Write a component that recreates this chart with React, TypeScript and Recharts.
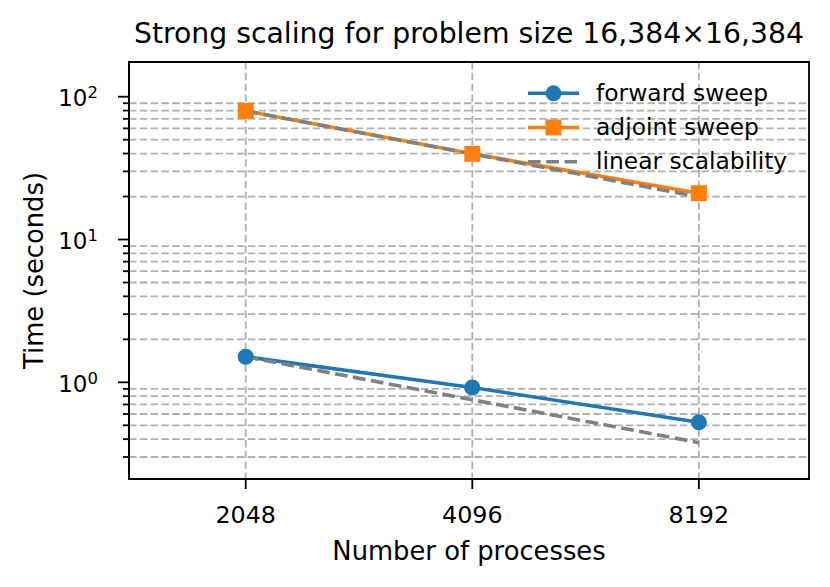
import React from 'react';
import { LineChart, Line, XAxis, YAxis, CartesianGrid, Legend, ReferenceArea } from 'recharts';

const processes = [2048, 4096, 8192];
const forwardSweep = [1.51, 0.92, 0.525];
const adjointSweep = [79.5, 39.8, 21.1];
const linearFromForward = [1.51, 0.755, 0.378];
const linearFromAdjoint = [79.5, 39.75, 19.9];

const xTicks = [2048, 4096, 8192];
const yMajorTicks = [1, 10, 100];
const yMajorExponents = ['0', '1', '2'];
const yMinorTicks = [0.3, 0.4, 0.5, 0.6, 0.7, 0.8, 0.9, 2, 3, 4, 5, 6, 7, 8, 9, 20, 30, 40, 50, 60, 70, 80, 90];
const yAllTicks = [...yMinorTicks, ...yMajorTicks].sort((a, b) => a - b);

const title = 'Strong scaling for problem size 16,384×16,384';
const xLabel = 'Number of processes';
const yLabel = 'Time (seconds)';
const seriesNames = ['forward sweep', 'adjoint sweep', 'linear scalability'];
const legendOrder = ['forward', 'adjoint', 'linF'];

const data = processes.map((p, i) => ({
  procs: p,
  forward: forwardSweep[i],
  adjoint: adjointSweep[i],
  linF: linearFromForward[i],
  linA: linearFromAdjoint[i],
}));

const W = 830;
const H = 587;
const PL = 129;
const PR = 809;
const PT = 62;
const PB = 479;
const FONT = '"DejaVu Sans", sans-serif';
const BLUE = '#1f77b4';
const ORANGE = '#ff7f0e';
const GRAY = '#808080';
const GRID = '#b0b0b0';
const X_DOMAIN = [1433, 11474];
const Y_DOMAIN = [0.2104, 175];
const LW = 3.6;

const applyScale = (axis: any, v: number) => {
  const s = axis?.scale;
  if (typeof s === 'function') return s(v);
  if (s && typeof s.map === 'function') return s.map(v);
  return NaN;
};

const YTick = (props: any) => {
  const { y, payload } = props;
  const v = payload.value;
  const mi = yMajorTicks.indexOf(v);
  const major = mi >= 0;
  return (
    <g>
      <line x1={PL - (major ? 11 : 6)} x2={PL} y1={y} y2={y} stroke="#000" strokeWidth={1.8} />
      {major && (
        <text x={PL - 31} y={y + 9.7} textAnchor="end" fontSize={23} fontFamily={FONT} fill="#000">
          10
          <tspan fontSize={16.5} dy={-8}>{yMajorExponents[mi]}</tspan>
        </text>
      )}
    </g>
  );
};

const XTick = (props: any) => {
  const { x, payload } = props;
  return (
    <g>
      <line x1={x} x2={x} y1={PB} y2={PB + 10} stroke="#000" strokeWidth={1.8} />
      <text x={x} y={PB + 44.3} textAnchor="middle" fontSize={23.8} fontFamily={FONT} fill="#000">
        {payload.value}
      </text>
    </g>
  );
};

const CircleDot = (props: any) => {
  const { cx, cy } = props;
  if (cx == null || cy == null) return null;
  return <circle cx={cx} cy={cy} r={8} fill={BLUE} />;
};

const SquareDot = (props: any) => {
  const { cx, cy } = props;
  if (cx == null || cy == null) return null;
  return <rect x={cx - 8} y={cy - 8} width={16} height={16} fill={ORANGE} />;
};

const LegendContent = (props: any) => {
  const items = (props.payload || [])
    .filter((e: any) => e.type !== 'none' && legendOrder.includes(e.dataKey))
    .sort((a: any, b: any) => legendOrder.indexOf(a.dataKey) - legendOrder.indexOf(b.dataKey));
  return (
    <svg width={300} height={120} style={{ display: 'block' }}>
      {items.map((e: any, i: number) => {
        const ly = 23.3 + i * 34.2;
        const key = e.dataKey;
        return (
          <g key={i}>
            {key === 'linF' ? (
              <line x1={8} x2={59} y1={ly} y2={ly} stroke={GRAY} strokeWidth={LW} strokeDasharray="12.7 5.5" />
            ) : (
              <line x1={8} x2={59} y1={ly} y2={ly} stroke={e.color} strokeWidth={LW} />
            )}
            {key === 'forward' && <circle cx={33.5} cy={ly} r={8} fill={BLUE} />}
            {key === 'adjoint' && <rect x={25.5} y={ly - 8} width={16} height={16} fill={ORANGE} />}
            <text x={76} y={ly + 7.7} fontSize={23.4} fontFamily={FONT} fill="#000">
              {e.value}
            </text>
          </g>
        );
      })}
    </svg>
  );
};

export default function App() {
  return (
    <div style={{ position: 'absolute', left: 0, top: 0, width: W, height: H, background: '#fff' }}>
      <LineChart
        width={W}
        height={H}
        data={data}
        margin={{ top: PT, right: W - PR, bottom: H - PB - 40, left: 0 }}
      >
        <CartesianGrid
          stroke={GRID}
          strokeWidth={1.8}
          strokeDasharray="7.5 3.3"
          horizontalCoordinatesGenerator={({ yAxis }: any) => yMinorTicks.map((v) => applyScale(yAxis, v))}
          verticalCoordinatesGenerator={({ xAxis }: any) => xTicks.map((v) => applyScale(xAxis, v))}
        />
        <XAxis
          dataKey="procs"
          type="number"
          scale="log"
          domain={X_DOMAIN}
          allowDataOverflow
          ticks={xTicks}
          interval={0}
          height={40}
          tick={<XTick />}
          tickLine={false}
          axisLine={{ stroke: '#000', strokeWidth: 1.8 }}
        />
        <YAxis
          type="number"
          scale="log"
          domain={Y_DOMAIN}
          allowDataOverflow
          ticks={yAllTicks}
          interval={0}
          width={PL}
          tick={<YTick />}
          tickLine={false}
          axisLine={{ stroke: '#000', strokeWidth: 1.8 }}
        />
        <ReferenceArea
          x1={X_DOMAIN[0]}
          x2={X_DOMAIN[1]}
          y1={Y_DOMAIN[0]}
          y2={Y_DOMAIN[1]}
          ifOverflow="visible"
          fill="none"
          fillOpacity={0}
          stroke="#000"
          strokeWidth={1.8}
        />
        <Line
          dataKey="forward"
          name={seriesNames[0]}
          stroke={BLUE}
          strokeWidth={LW}
          dot={<CircleDot />}
          activeDot={false}
          isAnimationActive={false}
        />
        <Line
          dataKey="adjoint"
          name={seriesNames[1]}
          stroke={ORANGE}
          strokeWidth={LW}
          dot={<SquareDot />}
          activeDot={false}
          isAnimationActive={false}
        />
        <Line
          dataKey="linF"
          name={seriesNames[2]}
          stroke={GRAY}
          strokeWidth={LW}
          strokeDasharray="12.7 5.5"
          dot={false}
          activeDot={false}
          isAnimationActive={false}
        />
        <Line
          dataKey="linA"
          name={seriesNames[2]}
          legendType="none"
          stroke={GRAY}
          strokeWidth={LW}
          strokeDasharray="12.7 5.5"
          dot={false}
          activeDot={false}
          isAnimationActive={false}
        />
        <Legend
          layout="horizontal"
          verticalAlign="middle"
          align="center"
          content={<LegendContent />}
          wrapperStyle={{ position: 'absolute', left: 520, top: 70, width: 300, height: 120 }}
        />
        <text x={(PL + PR) / 2} y={43.3} textAnchor="middle" fontSize={28.3} fontFamily={FONT} fill="#000">
          {title}
        </text>
        <text x={(PL + PR) / 2} y={560} textAnchor="middle" fontSize={25.8} fontFamily={FONT} fill="#000">
          {xLabel}
        </text>
        <text
          x={0}
          y={0}
          transform={`translate(43, ${(PT + PB) / 2}) rotate(-90)`}
          textAnchor="middle"
          fontSize={25.8}
          fontFamily={FONT}
          fill="#000"
        >
          {yLabel}
        </text>
      </LineChart>
    </div>
  );
}
